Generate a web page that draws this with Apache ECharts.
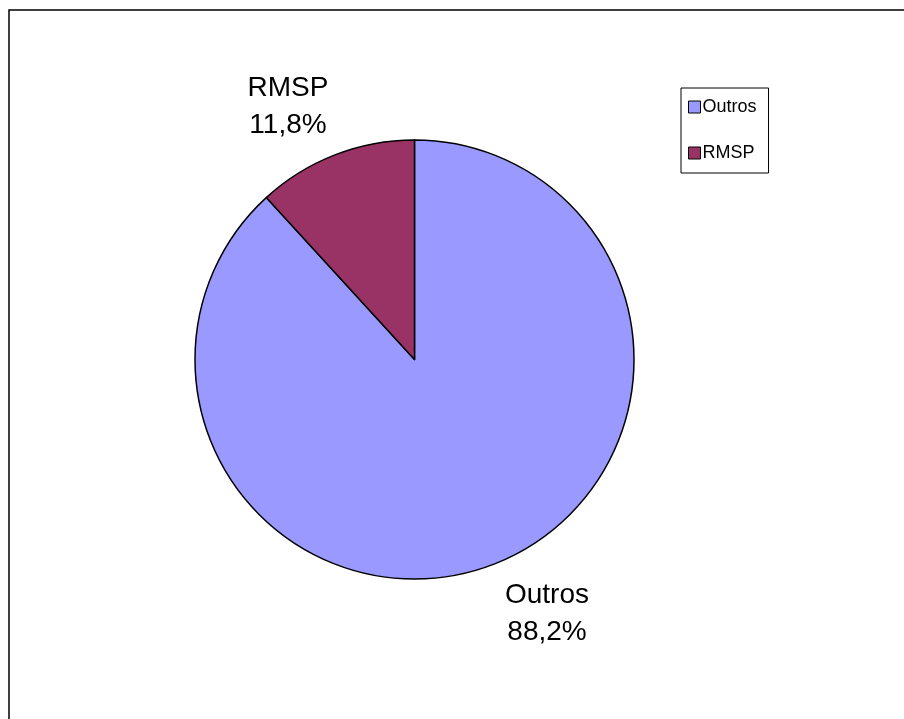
<!DOCTYPE html>
<html>
<head>
<meta charset="utf-8">
<script src="https://cdn.jsdelivr.net/npm/echarts@6/dist/echarts.min.js"></script>
<style>
html,body{margin:0;padding:0;background:#fff;}
#chart{width:904px;height:719px;}
</style>
</head>
<body>
<div id="chart"></div>
<script>
var categories = ['Outros', 'RMSP'];
var values = [88.2, 11.8];
var colors = ['#9999FF', '#993366'];

var chart = echarts.init(document.getElementById('chart'), null, {renderer: 'canvas'});
var font = 'Liberation Sans, Arial, sans-serif';
var labelPos = {
  Outros: {x: 547, y: 614},
  RMSP: {x: 288, y: 107}
};

chart.setOption({
  animation: false,
  backgroundColor: '#fff',
  graphic: [{
    type: 'rect',
    shape: {x: 9, y: 10, width: 1200, height: 1200},
    style: {fill: 'none', stroke: '#000', lineWidth: 1.5},
    silent: true
  }],
  legend: {
    orient: 'vertical',
    left: 681,
    top: 88,
    data: categories,
    icon: 'rect',
    itemWidth: 12,
    itemHeight: 12,
    itemGap: 28,
    padding: [10, 12, 11, 7],
    borderColor: '#000',
    borderWidth: 1,
    textStyle: {fontFamily: font, fontSize: 18, color: '#000', padding: [0, 0, 0, -3]},
    itemStyle: {borderColor: '#000', borderWidth: 1}
  },
  series: [{
    type: 'pie',
    center: [414.5, 359.5],
    radius: 219.5,
    startAngle: 90,
    clockwise: true,
    avoidLabelOverlap: false,
    data: categories.map(function (c, i) {
      return {name: c, value: values[i], itemStyle: {color: colors[i]}};
    }),
    itemStyle: {borderColor: '#000', borderWidth: 1.5},
    label: {
      show: true,
      position: 'outside',
      fontFamily: font,
      fontSize: 28,
      lineHeight: 37,
      color: '#000',
      align: 'center',
      formatter: function (p) {
        return p.name + '\n' + p.percent.toFixed(1).replace('.', ',') + '%';
      }
    },
    labelLine: {show: false},
    labelLayout: function (p) {
      var pos = labelPos[categories[p.dataIndex]];
      return {x: pos.x, y: pos.y, align: 'center', verticalAlign: 'middle'};
    },
    emphasis: {disabled: true}
  }]
});
</script>
</body>
</html>
